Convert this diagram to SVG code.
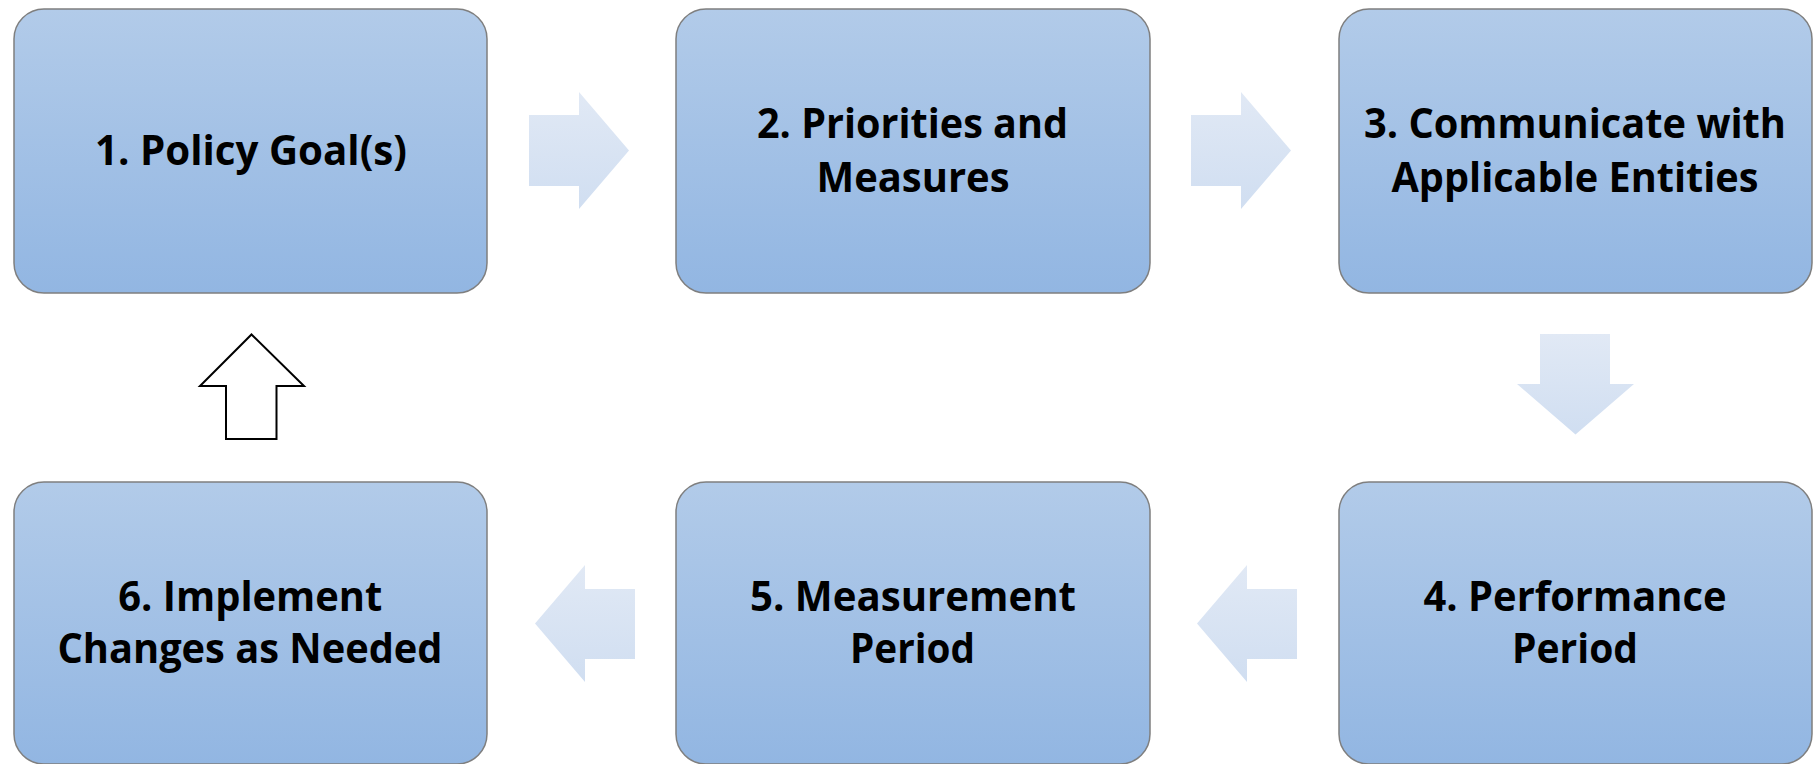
<svg xmlns="http://www.w3.org/2000/svg" width="1813" height="764" viewBox="0 0 1813 764">
  <defs>
    <linearGradient id="boxFill" x1="0" y1="0" x2="0" y2="1">
      <stop offset="0" stop-color="#B2CBE9"/>
      <stop offset="1" stop-color="#92B6E2"/>
    </linearGradient>
    <linearGradient id="arrowFillV" x1="0" y1="0" x2="0" y2="1">
      <stop offset="0" stop-color="#E1E9F5"/>
      <stop offset="1" stop-color="#D0DEF1"/>
    </linearGradient>
    <style>
      .box { fill: url(#boxFill); stroke: #7F7F7F; stroke-width: 1.5; }
      .label { font-family: "Open Sans", "Liberation Sans", sans-serif; font-weight: bold; font-size: 42px; fill: #000000; text-anchor: middle; }
      .flow { fill: url(#arrowFillV); stroke: none; }
      .back { fill: #FFFFFF; stroke: #000000; stroke-width: 2; stroke-linejoin: miter; }
    </style>
  </defs>
  <rect width="1813" height="764" fill="#FFFFFF"/>

  <!-- process steps -->
  <g id="step1">
    <rect class="box" x="14" y="9" width="473" height="284" rx="30" ry="30"/>
    <text class="label" x="251" y="165" textLength="312" lengthAdjust="spacingAndGlyphs">1. Policy Goal(s)</text>
  </g>
  <g id="step2">
    <rect class="box" x="676" y="9" width="474" height="284" rx="30" ry="30"/>
    <text class="label" x="912.5" y="137.7" textLength="311" lengthAdjust="spacingAndGlyphs">2. Priorities and</text>
    <text class="label" x="913" y="191.5" textLength="193" lengthAdjust="spacingAndGlyphs">Measures</text>
  </g>
  <g id="step3">
    <rect class="box" x="1339" y="9" width="473" height="284" rx="30" ry="30"/>
    <text class="label" x="1575" y="138" textLength="422" lengthAdjust="spacingAndGlyphs">3. Communicate with</text>
    <text class="label" x="1575" y="191.5" textLength="367" lengthAdjust="spacingAndGlyphs">Applicable Entities</text>
  </g>
  <g id="step4">
    <rect class="box" x="1339" y="482" width="473" height="282" rx="30" ry="30"/>
    <text class="label" x="1575" y="610.7" textLength="303" lengthAdjust="spacingAndGlyphs">4. Performance</text>
    <text class="label" x="1575" y="663.3" textLength="126" lengthAdjust="spacingAndGlyphs">Period</text>
  </g>
  <g id="step5">
    <rect class="box" x="676" y="482" width="474" height="282" rx="30" ry="30"/>
    <text class="label" x="913" y="610.7" textLength="326" lengthAdjust="spacingAndGlyphs">5. Measurement</text>
    <text class="label" x="912.5" y="663.3" textLength="125" lengthAdjust="spacingAndGlyphs">Period</text>
  </g>
  <g id="step6">
    <rect class="box" x="14" y="482" width="473" height="282" rx="30" ry="30"/>
    <text class="label" x="250.3" y="610.7" textLength="264" lengthAdjust="spacingAndGlyphs">6. Implement</text>
    <text class="label" x="250" y="663.3" textLength="385" lengthAdjust="spacingAndGlyphs">Changes as Needed</text>
  </g>

  <!-- block arrows between steps -->
  <g id="connectors">
    <polygon class="flow" points="529,115 579,115 579,92 629,150.5 579,209 579,186 529,186"/>
    <polygon class="flow" points="1191,115 1241,115 1241,92 1291,150.5 1241,209 1241,186 1191,186"/>
    <polygon class="flow" points="1540,334 1610,334 1610,384 1634,384 1575.5,434.5 1517,384 1540,384"/>
    <polygon class="flow" points="1297,589 1247,589 1247,565 1197,623.5 1247,682 1247,659 1297,659"/>
    <polygon class="flow" points="635,589 585,589 585,565 535,623.5 585,682 585,659 635,659"/>
    <polygon class="back" points="226,439 276.5,439 276.5,386 304,386 251.5,334.5 200,386 226,386"/>
  </g>
</svg>
